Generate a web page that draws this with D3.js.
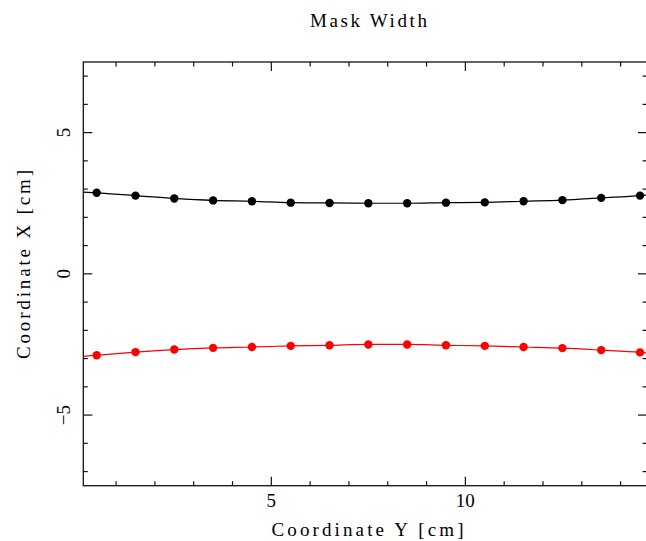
<!DOCTYPE html>
<html>
<head>
<meta charset="utf-8">
<script src="https://cdn.jsdelivr.net/npm/d3@7"></script>
<style>
  html, body { margin: 0; padding: 0; background: #fff; }
  svg text { font-family: "Liberation Serif", "DejaVu Serif", serif; fill: #000; }
</style>
</head>
<body>
<div id="chart"></div>
<script>
// positions along Y [cm]
const coordY = [0.5, 1.5, 2.5, 3.5, 4.5, 5.5, 6.5, 7.5, 8.5, 9.5, 10.5, 11.5, 12.5, 13.5, 14.5];
// upper edge of the mask (black) and lower edge (red), X [cm]
const upperX = [2.87, 2.77, 2.67, 2.60, 2.57, 2.52, 2.51, 2.50, 2.50, 2.52, 2.53, 2.57, 2.61, 2.69, 2.77];
const lowerX = [-2.88, -2.77, -2.68, -2.62, -2.59, -2.55, -2.53, -2.50, -2.50, -2.53, -2.55, -2.59, -2.63, -2.70, -2.78];
// fitted curve read at the left / right frame edges
const edgeY = [0.155, 14.68];
const upperEdge = [2.89, 2.79];
const lowerEdge = [-2.92, -2.80];

const xMajor = [5, 10];
const xMinor = d3.range(1, 15);
const yMajor = [-5, 0, 5];
const yMinor = d3.range(-7, 8);

const width = 646, height = 541;
const margin = { top: 62, right: -1, bottom: 55.3, left: 83.3 };

const svg = d3.select("#chart")
  .append("svg")
  .attr("width", width)
  .attr("height", height);

const x = d3.scaleLinear()
  .domain(edgeY)
  .range([margin.left, width - margin.right]);

const y = d3.scaleLinear()
  .domain([-7.5, 7.5])
  .range([height - margin.bottom, margin.top]);

const x0 = x.range()[0], x1 = x.range()[1];
const y0 = y.range()[0], y1 = y.range()[1];

svg.append("clipPath").attr("id", "clip")
  .append("rect")
  .attr("x", x0).attr("y", y1)
  .attr("width", x1 - x0).attr("height", y0 - y1);

// frame
svg.append("rect")
  .attr("x", x0).attr("y", y1)
  .attr("width", x1 - x0).attr("height", y0 - y1)
  .attr("fill", "none")
  .attr("stroke", "#111")
  .attr("stroke-width", 1.3);

// ticks on all four sides, pointing inward
const ticks = svg.append("g").attr("stroke", "#111").attr("stroke-width", 1.2);
function xTicks(vals, len) {
  vals.forEach(v => {
    ticks.append("line").attr("x1", x(v)).attr("x2", x(v)).attr("y1", y0).attr("y2", y0 - len);
    ticks.append("line").attr("x1", x(v)).attr("x2", x(v)).attr("y1", y1).attr("y2", y1 + len);
  });
}
function yTicks(vals, len) {
  vals.forEach(v => {
    ticks.append("line").attr("y1", y(v)).attr("y2", y(v)).attr("x1", x0).attr("x2", x0 + len);
    ticks.append("line").attr("y1", y(v)).attr("y2", y(v)).attr("x1", x1).attr("x2", x1 - len);
  });
}
xTicks(xMinor.filter(v => !xMajor.includes(v)), 4.5);
xTicks(xMajor, 9);
yTicks(yMinor.filter(v => !yMajor.includes(v)), 4.5);
yTicks(yMajor, 9);

// tick labels
svg.append("g").selectAll("text")
  .data(xMajor)
  .enter()
  .append("text")
  .attr("x", d => x(d))
  .attr("y", 507)
  .attr("text-anchor", "middle")
  .style("font-size", "19px")
  .text(d => d);

svg.append("g").selectAll("text")
  .data(yMajor)
  .enter()
  .append("text")
  .attr("transform", d => `translate(69.5, ${y(d)}) rotate(-90)`)
  .attr("text-anchor", "middle")
  .style("font-size", "19px")
  .text(d => d < 0 ? "\u2212" + Math.abs(d) : d);

// titles
svg.append("text")
  .attr("x", 368.5).attr("y", 27)
  .attr("text-anchor", "middle")
  .attr("textLength", 117).attr("lengthAdjust", "spacing")
  .style("font-size", "19px")
  .text("Mask Width");

svg.append("text")
  .attr("x", 367.5).attr("y", 536)
  .attr("text-anchor", "middle")
  .attr("textLength", 192).attr("lengthAdjust", "spacing")
  .style("font-size", "19px")
  .text("Coordinate Y [cm]");

svg.append("text")
  .attr("transform", "translate(29.5, 264.5) rotate(-90)")
  .attr("text-anchor", "middle")
  .attr("textLength", 189).attr("lengthAdjust", "spacing")
  .style("font-size", "19px")
  .text("Coordinate X [cm]");

// series
const series = [
  { vals: upperX, edge: upperEdge, color: "#000" },
  { vals: lowerX, edge: lowerEdge, color: "#ff0000" }
];

const line = d3.line()
  .x(d => x(d[0]))
  .y(d => y(d[1]))
  .curve(d3.curveMonotoneX);

series.forEach(s => {
  const pts = [[edgeY[0], s.edge[0]]]
    .concat(coordY.map((c, i) => [c, s.vals[i]]))
    .concat([[edgeY[1], s.edge[1]]]);

  svg.append("path")
    .attr("d", line(pts))
    .attr("clip-path", "url(#clip)")
    .attr("fill", "none")
    .attr("stroke", s.color)
    .attr("stroke-width", 1.2);

  svg.append("g").selectAll("circle")
    .data(coordY)
    .enter()
    .append("circle")
    .attr("cx", d => x(d))
    .attr("cy", (d, i) => y(s.vals[i]))
    .attr("r", 4.2)
    .attr("fill", s.color);
});
</script>
</body>
</html>
